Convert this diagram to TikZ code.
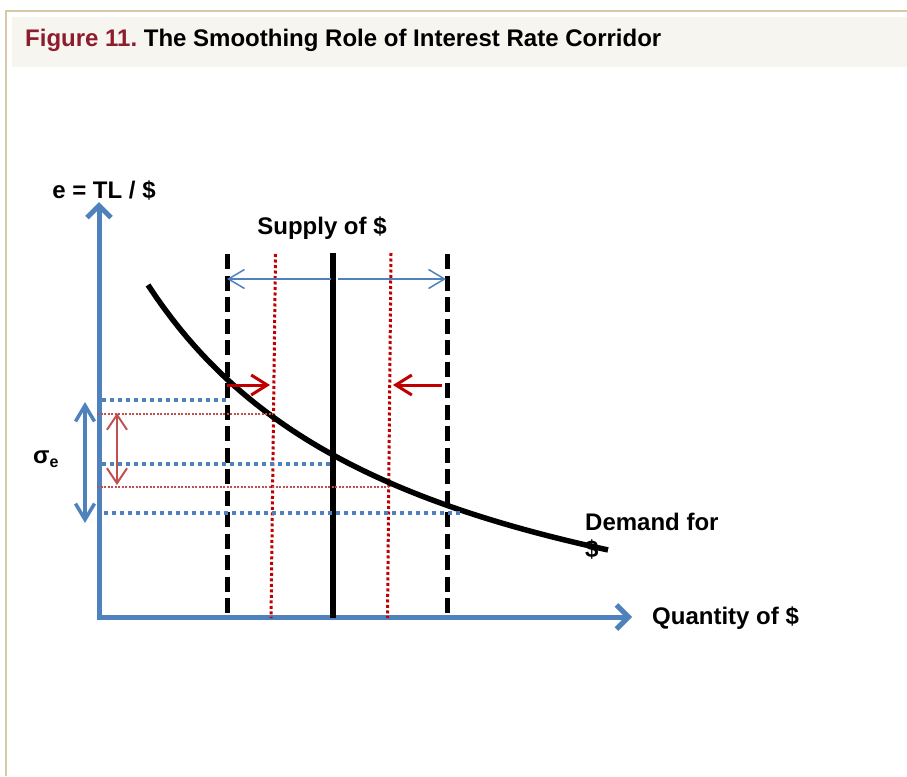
\documentclass[tikz,border=0pt]{standalone}
\usepackage{fontspec}
\setmainfont{Liberation Sans}
\usepackage{tikz}
\usetikzlibrary{arrows.meta,positioning,calc}
\definecolor{frameline}{HTML}{D6C9A8}
\definecolor{band}{HTML}{F6F5F0}
\definecolor{figred}{HTML}{8E1B2E}
\definecolor{axisblue}{HTML}{4F81BD}
\definecolor{corred}{HTML}{C00000}
\definecolor{softred}{HTML}{C0504D}

\tikzset{
  lbl/.style={inner sep=0pt, font=\fontsize{24}{27}\selectfont\bfseries},
  axis/.style={draw=axisblue, line width=5pt, -{Straight Barb[length=12pt,width=24pt]}},
  bound/.style={line width=5pt, dash pattern=on 15pt off 6.5pt},
  corr/.style={draw=corred, line width=3pt, dash pattern=on 3pt off 2.5pt},
  rateline/.style={draw=axisblue, line width=4pt, dash pattern=on 4pt off 4pt},
  guide/.style={draw=softred, line width=1.5pt, dash pattern=on 2pt off 1.5pt},
  nudge/.style={draw=corred, line width=3pt, -{Straight Barb[length=16pt,width=20pt]}},
  spread/.style={draw=axisblue, line width=1.5pt, -{Straight Barb[length=16pt,width=19pt]}},
}

\begin{document}
\frenchspacing
\begin{tikzpicture}[x=1pt, y=-1pt]
  \useasboundingbox (0,0) rectangle (907,776);
  % frame and title band
  \draw[frameline, line width=1.5pt] (907,11) -- (6,11) -- (6,776);
  \fill[band] (12,17) rectangle (907,67);
  \node[lbl, anchor=base west] (title) at (25,47)
    {{\color{figred}Figure 11.} The Smoothing Role of Interest Rate Corridor};

  % axes
  \coordinate (origin) at (99,617);
  \coordinate (ytip) at (99,202);
  \coordinate (xtip) at (632,617);
  \draw[axis] ($(origin)+(0,3)$) -- (ytip);
  \draw[axis] ($(origin)+(-2.5,0)$) -- (xtip);

  % supply lines
  \draw[bound] (227,254) -- (227,618);
  \draw[bound] (447,254) -- (447,618);
  \draw[line width=6pt] (333,253) -- (333,618);
  \draw[corr] (275.5,254) -- (271,618);
  \draw[corr] (391,253) -- (387.5,618);

  % labels
  \node[lbl] (ylabel) at (104,190) {e = TL / \$};
  \node[lbl, anchor=base] (supply) at (322,234) {Supply of \$};
  \node[lbl, anchor=base west, align=left] (demand) at (585,557) {Demand for\\\$};
  \node[lbl, anchor=base west] (quantity) at (652,624) {Quantity of \$};
  \node[lbl, anchor=base west] (sigma) at (33,463)
    {σ\raisebox{-4pt}{\fontsize{16}{16}\selectfont e}};

  % demand curve
  \draw[line width=5.5pt] plot[domain=148:608, samples=60]
    (\x, {709.5 - 1175.98/((\x+129)/100)});

  % exchange rate levels
  \draw[rateline] (102,400) -- (227,400);
  \draw[rateline] (102,464) -- (333,464);
  \draw[rateline] (104,513) -- (461,513);
  \draw[guide] (97,414) -- (273,414);
  \draw[guide] (97,487) -- (388,487);

  % arrows
  \draw[spread] (331,279) -- (227,279);
  \draw[spread] (338,279) -- (446,279);
  \draw[nudge] (227,385) -- (270,385);
  \draw[nudge] (442,385) -- (393,385);
  \draw[axisblue, line width=3.5pt,
        {Straight Barb[length=16pt,width=19pt]}-{Straight Barb[length=16pt,width=19pt]}]
    (85,402) -- (85,523);
  \draw[softred, line width=2pt,
        {Straight Barb[length=15pt,width=20pt]}-{Straight Barb[length=15pt,width=20pt]}]
    (117,413) -- (117,485);
\end{tikzpicture}
\end{document}
